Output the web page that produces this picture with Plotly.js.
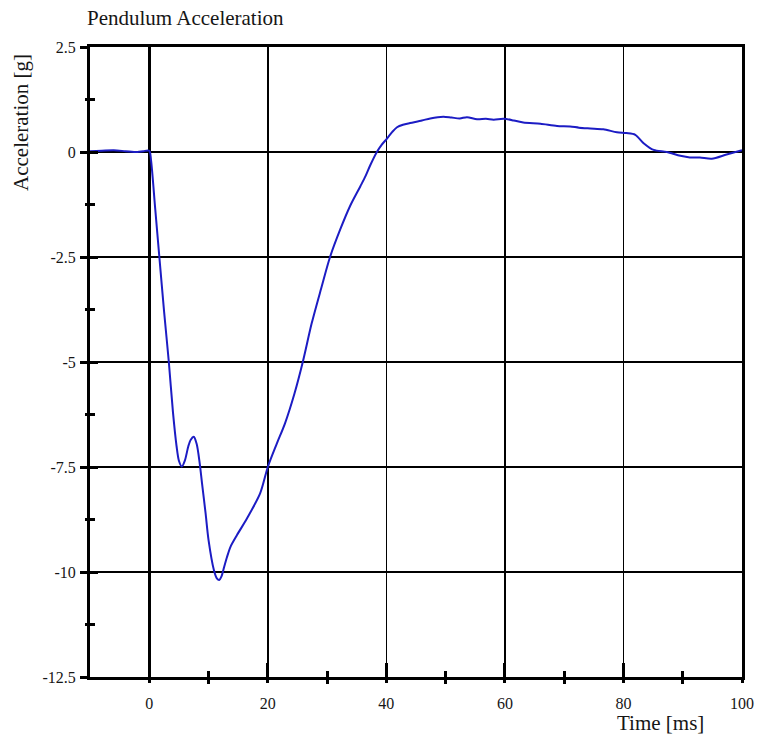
<!DOCTYPE html>
<html>
<head>
<meta charset="utf-8">
<script src="https://cdn.plot.ly/plotly-3.0.1.min.js"></script>
<style>html,body{margin:0;padding:0;background:#fff;}#chart{width:758px;height:736px;}</style>
</head>
<body>
<div id="chart"></div>
<script>
var timeMs = [-10, -8, -6, -4, -2, -1, 0, 0.3, 1, 1.7, 2.5, 3.3, 4.0, 4.6, 5.0, 5.5, 6.0, 6.6, 7.0, 7.5, 8.0, 8.5, 8.9, 9.5, 10, 10.9, 11.4, 11.8, 12.2, 12.5, 13.1, 13.7, 14.8, 16.5, 18.7, 20, 21.5, 22.9, 24.5, 25.9, 27.4, 29, 30.5, 32.2, 33.9, 35.6, 36.5, 37.3, 38.4, 39.2, 40.1, 41.0, 41.8, 42.8, 44, 46, 47.4, 49.6, 51, 52.4, 53.6, 55.3, 56.8, 58.1, 59.8, 61.5, 63.1, 66, 68.8, 71, 72.5, 74.4, 76.6, 78.9, 80.5, 82, 83.4, 85.1, 87.3, 89.6, 91.2, 92.9, 94.9, 97.4, 100];
var accelG = [0.02, 0.03, 0.04, 0.02, 0.0, 0.02, 0.03, -0.2, -1.35, -2.5, -3.8, -5.0, -6.2, -7.0, -7.35, -7.49, -7.35, -7.0, -6.85, -6.78, -6.95, -7.4, -7.89, -8.6, -9.24, -9.95, -10.15, -10.19, -10.1, -9.95, -9.65, -9.4, -9.12, -8.72, -8.13, -7.5, -6.95, -6.46, -5.75, -5.0, -4.08, -3.25, -2.5, -1.85, -1.28, -0.82, -0.57, -0.31, 0.0, 0.17, 0.32, 0.48, 0.59, 0.65, 0.69, 0.75, 0.80, 0.84, 0.82, 0.80, 0.83, 0.78, 0.79, 0.77, 0.79, 0.75, 0.70, 0.67, 0.62, 0.61, 0.58, 0.56, 0.54, 0.47, 0.45, 0.41, 0.21, 0.05, 0.0, -0.09, -0.13, -0.13, -0.16, -0.06, 0.04];
var xTickVals = [0, 20, 40, 60, 80, 100];
var xTickText = ['0', '20', '40', '60', '80', '100'];
var xMinorVals = [10, 30, 50, 70, 90];
var yTickVals = [2.5, 0, -2.5, -5, -7.5, -10, -12.5];
var yTickText = ['2.5', '0', '-2.5', '-5', '-7.5', '-10', '-12.5'];
var yMinorVals = [1.25, -1.25, -3.75, -6.25, -8.75, -11.25];

var serif = 'Liberation Serif, Times New Roman, serif';
var textColor = '#161616';
var xRange = [-10, 100];
var yRange = [-12.5, 2.5];

var traces = [
  {x: timeMs, y: accelG, type: 'scatter', mode: 'lines', xaxis: 'x', yaxis: 'y',
   line: {color: '#1c1cc4', width: 2, shape: 'spline', smoothing: 0.8}, hoverinfo: 'skip', showlegend: false},
  {x: [], y: [], type: 'scatter', mode: 'lines', xaxis: 'x2', yaxis: 'y2', showlegend: false, hoverinfo: 'skip'}
];

var layout = {
  width: 758, height: 736,
  margin: {l: 90, r: 16, t: 47, b: 59},
  paper_bgcolor: '#fff', plot_bgcolor: '#fff',
  showlegend: false,
  font: {family: serif, size: 16, color: textColor},
  title: {text: 'Pendulum Acceleration', xref: 'container', yref: 'container', x: 87/758, xanchor: 'left', y: 1 - 18/736, yanchor: 'middle', font: {family: serif, size: 21, color: textColor}},
  xaxis: {
    range: xRange, fixedrange: true,
    tickvals: xTickVals, ticktext: xTickText, showticklabels: true,
    tickfont: {family: serif, size: 16, color: textColor},
    ticklabelstandoff: 10,
    ticks: 'inside', ticklen: 14, tickwidth: 3, tickcolor: '#000',
    minor: {tickvals: xMinorVals, ticks: 'inside', ticklen: 6, tickwidth: 3, tickcolor: '#000', showgrid: false},
    showgrid: true, gridcolor: '#000', gridwidth: 1.5,
    zeroline: true, zerolinecolor: '#000', zerolinewidth: 2.5,
    showline: true, linecolor: '#000', linewidth: 3, mirror: true
  },
  yaxis: {
    range: yRange, fixedrange: true,
    tickvals: yTickVals, ticktext: yTickText, showticklabels: true,
    tickfont: {family: serif, size: 16, color: textColor},
    ticklabelstandoff: 8,
    ticks: 'inside', ticklen: 8, tickwidth: 3, tickcolor: '#000',
    minor: {tickvals: yMinorVals, ticks: 'inside', ticklen: 5, tickwidth: 3, tickcolor: '#000', showgrid: false},
    showgrid: true, gridcolor: '#000', gridwidth: 1.5,
    zeroline: true, zerolinecolor: '#000', zerolinewidth: 2.5,
    showline: true, linecolor: '#000', linewidth: 3, mirror: true
  },
  xaxis2: {
    overlaying: 'x', anchor: 'y2', side: 'bottom', range: xRange, fixedrange: true,
    tickvals: xTickVals, showticklabels: false,
    ticks: 'outside', ticklen: 5, tickwidth: 3, tickcolor: '#000',
    minor: {tickvals: xMinorVals, ticks: 'outside', ticklen: 6, tickwidth: 3, tickcolor: '#000', showgrid: false},
    showgrid: false, zeroline: false, showline: false
  },
  yaxis2: {
    overlaying: 'y', anchor: 'x2', side: 'left', range: yRange, fixedrange: true,
    tickvals: yTickVals, showticklabels: false,
    ticks: 'outside', ticklen: 9, tickwidth: 3, tickcolor: '#000',
    minor: {tickvals: yMinorVals, ticks: 'outside', ticklen: 4, tickwidth: 3, tickcolor: '#000', showgrid: false},
    showgrid: false, zeroline: false, showline: false
  },
  annotations: [
    {text: 'Acceleration [g]', xref: 'paper', yref: 'paper', x: (21-90)/652, y: 1 - (123-47)/630, xanchor: 'center', yanchor: 'middle', textangle: -90, showarrow: false, font: {family: serif, size: 21, color: textColor}},
    {text: 'Time [ms]', xref: 'paper', yref: 'paper', x: (660-90)/652, y: -(723-677)/630, xanchor: 'center', yanchor: 'middle', showarrow: false, font: {family: serif, size: 21, color: textColor}}
  ]
};

Plotly.newPlot('chart', traces, layout, {staticPlot: true, displayModeBar: false});
</script>
</body>
</html>
